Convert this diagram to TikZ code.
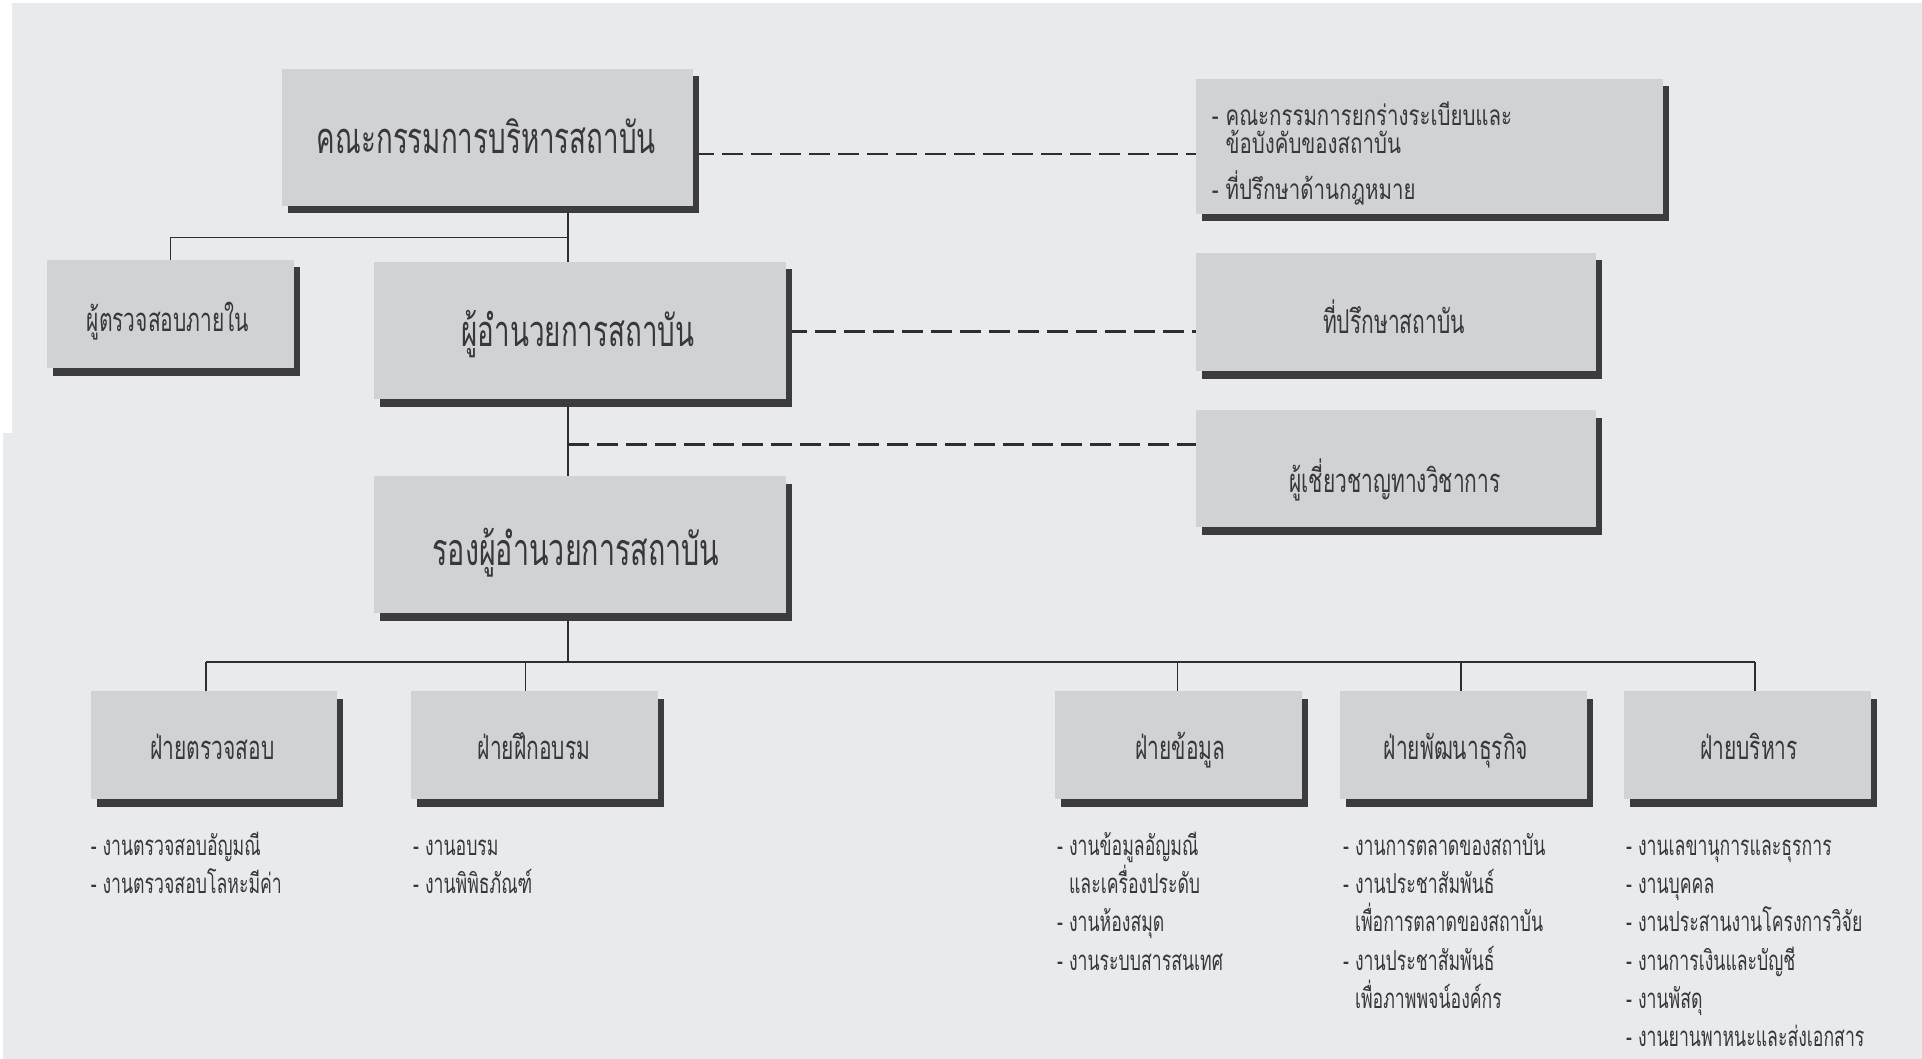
\documentclass[tikz,border=0pt]{standalone}
\usepackage{fontspec}
\newfontfamily\thai[Script=Thai,FakeStretch=0.64]{Loma}
\newfontfamily\thaiw[Script=Thai,FakeStretch=0.73]{Loma}
\usetikzlibrary{shadows,calc}
\pgfdeclarelayer{bg}
\pgfdeclarelayer{lines}
\pgfsetlayers{bg,lines,main}
\definecolor{bgc}{HTML}{E9EAEC}
\definecolor{boxc}{HTML}{D1D2D4}
\definecolor{shc}{HTML}{3C3C3E}
\definecolor{linec}{HTML}{2E2E30}
\definecolor{txtc}{HTML}{38383A}
\newcommand\fbig{\thai\fontsize{43.4}{50}\selectfont}
\newcommand\fbigd{\thai\fontsize{44.8}{50}\selectfont}
\newcommand\fmid{\thai\fontsize{32.8}{38}\selectfont}
\newcommand\fenote{\thaiw\fontsize{28}{32}\selectfont}
\newcommand\flist{\thai\fontsize{27.6}{32}\selectfont}
\newcommand\ind{\hphantom{-\ }}
\newcommand\twolines[3]{\vtop{\baselineskip=#1\lineskiplimit=-100pt\lineskip=0pt\hbox{#2}\hbox{#3}}}
\begin{document}
\begin{tikzpicture}[x=1pt,y=-1pt,
  box/.style={rectangle, fill=boxc, inner sep=0pt,
    drop shadow={shadow xshift=5.5pt, shadow yshift=-7.5pt, fill=shc, opacity=1}},
  bigtxt/.style={font=\fbig, text=txtc, inner sep=0pt, anchor=base},
  midtxt/.style={font=\fmid, text=txtc, inner sep=0pt, anchor=base},
  etxt/.style={font=\fenote, text=txtc, inner sep=0pt, anchor=base west},
  ltxt/.style={font=\flist, text=txtc, inner sep=0pt, anchor=base west},
  conn/.style={draw=linec, line width=1.6pt},
  dashln/.style={draw=linec, line width=2.1pt, dash pattern=on 21pt off 8pt}]
\useasboundingbox (0,0) rectangle (1922,1059);
\begin{pgfonlayer}{bg}
  \fill[white] (0,0) rectangle (1922,1059);
  \fill[bgc] (12,3) rectangle (1922,1059);
  \fill[bgc] (3,433) rectangle (12,1059);
\end{pgfonlayer}

% boxes
\node[box, minimum width=411pt, minimum height=136.7pt] (A) at (487.5,137.35) {};
\node[box, minimum width=247pt, minimum height=108pt] (B) at (170.5,314) {};
\node[box, minimum width=412pt, minimum height=137pt] (C) at (580,330.5) {};
\node[box, minimum width=412pt, minimum height=137pt] (D) at (580,544.5) {};
\node[box, minimum width=467pt, minimum height=135pt] (E) at (1429.5,146.5) {};
\node[box, minimum width=400pt, minimum height=118pt] (F) at (1396,312) {};
\node[box, minimum width=400pt, minimum height=117pt] (G) at (1396,468.5) {};
\node[box, minimum width=246pt, minimum height=108pt] (P1) at (214,745) {};
\node[box, minimum width=247pt, minimum height=108pt] (P2) at (534.5,745) {};
\node[box, minimum width=247pt, minimum height=108pt] (P3) at (1178.5,745) {};
\node[box, minimum width=247pt, minimum height=108pt] (P4) at (1463.5,745) {};
\node[box, minimum width=247pt, minimum height=108pt] (P5) at (1747.5,745) {};

% box texts
\node[bigtxt] (At) at (486.4,153.3) {คณะกรรมการบริหารสถาบัน};
\node[midtxt] (Bt) at (168,331) {ผู้ตรวจสอบภายใน};
\node[bigtxt] (Ct) at (578,346) {ผู้อำนวยการสถาบัน};
\node[bigtxt, font=\fbigd] (Dt) at (576,565) {รองผู้อำนวยการสถาบัน};
\node[etxt] (E1) at (1211.7,125.5) {\twolines{28pt}{- คณะกรรมการยกร่างระเบียบและ}{\ind ข้อบังคับของสถาบัน}};
\node[etxt] (E3) at (1211.7,200) {- ที่ปรึกษาด้านกฎหมาย};
\node[midtxt] (Ft) at (1394,334) {ที่ปรึกษาสถาบัน};
\node[midtxt] (Gt) at (1395,492) {ผู้เชี่ยวชาญทางวิชาการ};
\node[midtxt] (P1t) at (212.5,759) {ฝ่ายตรวจสอบ};
\node[midtxt] (P2t) at (534,759) {ฝ่ายฝึกอบรม};
\node[midtxt] (P3t) at (1180.5,759) {ฝ่ายข้อมูล};
\node[midtxt] (P4t) at (1456,759) {ฝ่ายพัฒนาธุรกิจ};
\node[midtxt] (P5t) at (1749,759) {ฝ่ายบริหาร};

% lists
\node[ltxt] (L1a) at (90.6,855) {- งานตรวจสอบอัญมณี};
\node[ltxt] (L1b) at (90.6,893.3) {- งานตรวจสอบโลหะมีค่า};
\node[ltxt] (L2a) at (413,855) {- งานอบรม};
\node[ltxt] (L2b) at (413,893.3) {- งานพิพิธภัณฑ์};
\node[ltxt] (L3a) at (1057,855) {- งานข้อมูลอัญมณี};
\node[ltxt] (L3b) at (1057,893.3) {\ind และเครื่องประดับ};
\node[ltxt] (L3c) at (1057,931.6) {- งานห้องสมุด};
\node[ltxt] (L3d) at (1057,970) {- งานระบบสารสนเทศ};
\node[ltxt] (L4a) at (1343,855) {- งานการตลาดของสถาบัน};
\node[ltxt] (L4b) at (1343,893.3) {- งานประชาสัมพันธ์};
\node[ltxt] (L4c) at (1343,931.6) {\ind เพื่อการตลาดของสถาบัน};
\node[ltxt] (L4d) at (1343,970) {- งานประชาสัมพันธ์};
\node[ltxt] (L4e) at (1343,1008.2) {\ind เพื่อภาพพจน์องค์กร};
\node[ltxt] (L5a) at (1626,855) {- งานเลขานุการและธุรการ};
\node[ltxt] (L5b) at (1626,893.3) {- งานบุคคล};
\node[ltxt] (L5c) at (1626,931.6) {- งานประสานงานโครงการวิจัย};
\node[ltxt] (L5d) at (1626,970) {- งานการเงินและบัญชี};
\node[ltxt] (L5e) at (1626,1008.2) {- งานพัสดุ};
\node[ltxt] (L5f) at (1626,1046.5) {- งานยานพาหนะและส่งเอกสาร};

% connectors
\coordinate (spine) at (568,0);
\coordinate (jB) at (568,237.6);
\coordinate (dA) at (0,154);
\coordinate (dC) at (0,331.5);
\coordinate (dG) at (568,444.5);
\coordinate (bus) at (568,662);
\coordinate (b1) at (206,662);
\coordinate (b2) at (525.5,662);
\coordinate (b3) at (1177.5,662);
\coordinate (b4) at (1461,662);
\coordinate (b5) at (1755,662);
\begin{pgfonlayer}{lines}
  \draw[conn] (A.south -| spine) -- (C.north -| spine);
  \draw[conn] (jB) -| (B.north);
  \draw[conn] (C.south -| spine) -- (D.north -| spine);
  \draw[conn] (D.south -| bus) -- (bus);
  \draw[conn] (b1) -- (b5);
  \draw[conn] (b1) -- (P1.north -| b1);
  \draw[conn] (b2) -- (P2.north -| b2);
  \draw[conn] (b3) -- (P3.north -| b3);
  \draw[conn] (b4) -- (P4.north -| b4);
  \draw[conn] (b5) -- (P5.north -| b5);
  \draw[dashln] (A.east |- dA) -- (E.west |- dA);
  \draw[dashln] (C.east |- dC) -- (F.west |- dC);
  \draw[dashln] (dG) -- (G.west |- dG);
\end{pgfonlayer}
\end{tikzpicture}
\end{document}
